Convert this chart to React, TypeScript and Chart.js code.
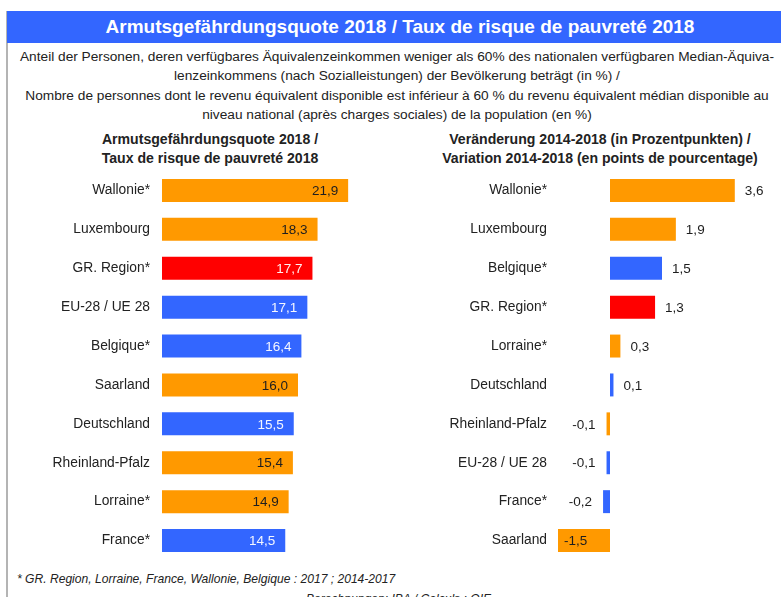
import React, { useEffect, useRef } from "react";
import { Chart, registerables } from "chart.js";

Chart.register(...registerables);

// ---------- data ----------
const levelCategories = [
  "Wallonie*",
  "Luxembourg",
  "GR. Region*",
  "EU-28 / UE 28",
  "Belgique*",
  "Saarland",
  "Deutschland",
  "Rheinland-Pfalz",
  "Lorraine*",
  "France*",
];
const levelValues = [21.9, 18.3, 17.7, 17.1, 16.4, 16.0, 15.5, 15.4, 14.9, 14.5];
const levelKinds = ["region", "region", "gr", "national", "national", "region", "national", "region", "region", "national"];

const changeCategories = [
  "Wallonie*",
  "Luxembourg",
  "Belgique*",
  "GR. Region*",
  "Lorraine*",
  "Deutschland",
  "Rheinland-Pfalz",
  "EU-28 / UE 28",
  "France*",
  "Saarland",
];
const changeValues = [3.6, 1.9, 1.5, 1.3, 0.3, 0.1, -0.1, -0.1, -0.2, -1.5];
const changeKinds = ["region", "region", "national", "gr", "region", "national", "region", "national", "national", "region"];

const COLORS: Record<string, string> = {
  region: "#FF9900",
  national: "#3366FF",
  gr: "#FF0000",
};
const TEXT_ON: Record<string, string> = {
  region: "#1e1e1e",
  national: "#f4f6ff",
  gr: "#fff2f2",
};

const FONT = '"Liberation Sans", Arial, Helvetica, sans-serif';

const fmt = (v: number) => v.toFixed(1).replace(".", ",");

const valueLabels = {
  id: "valueLabels",
  afterDatasetsDraw(chart: any, _args: any, opts: any) {
    const ctx = chart.ctx;
    const meta = chart.getDatasetMeta(0);
    const ds = chart.data.datasets[0];
    const area = chart.chartArea;
    ctx.save();
    ctx.font = `13.5px ${FONT}`;
    ctx.textBaseline = "middle";
    meta.data.forEach((bar: any, i: number) => {
      const v = ds.data[i] as number;
      const text = fmt(v);
      const { x, y, base } = bar.getProps(["x", "y", "base"], true);
      if (opts.mode === "inside") {
        ctx.textAlign = "right";
        ctx.fillStyle = TEXT_ON[opts.kinds[i]];
        ctx.fillText(text, x - 10, y + 1);
      } else {
        ctx.fillStyle = "#1e1e1e";
        if (v >= 0) {
          ctx.textAlign = "left";
          ctx.fillText(text, Math.max(x, base) + 10, y + 1);
        } else {
          const w = ctx.measureText(text).width;
          let right = Math.min(x, base) - 11;
          if (right - w < area.left + 6) right = area.left + 6 + w;
          ctx.textAlign = "right";
          ctx.fillText(text, right, y + 1);
        }
      }
    });
    ctx.restore();
  },
};

function makeChart(
  canvas: HTMLCanvasElement,
  labels: string[],
  values: number[],
  kinds: string[],
  min: number,
  max: number,
  axisWidth: number,
  tickPad: number,
  mode: string
) {
  return new Chart(canvas, {
    type: "bar",
    data: {
      labels,
      datasets: [
        {
          data: values,
          backgroundColor: kinds.map((k) => COLORS[k]),
          borderWidth: 0,
          barPercentage: 0.59,
          categoryPercentage: 1,
        },
      ],
    },
    options: {
      indexAxis: "y",
      animation: false,
      responsive: false,
      maintainAspectRatio: false,
      layout: { padding: 0 },
      plugins: {
        legend: { display: false },
        tooltip: { enabled: false },
        title: { display: false },
        valueLabels: { mode, kinds },
      } as any,
      scales: {
        x: { display: false, min, max },
        y: {
          grid: { display: false, drawTicks: false },
          border: { display: false },
          ticks: {
            color: "#222",
            font: { family: FONT, size: 13.8 },
            padding: tickPad,
          },
          afterFit: (s: any) => {
            s.width = axisWidth;
            s.paddingTop = 0;
            s.paddingBottom = 0;
          },
        },
      },
    },
    plugins: [valueLabels],
  });
}

function ChartCanvas(props: {
  left: number;
  top: number;
  width: number;
  height: number;
  build: (c: HTMLCanvasElement) => Chart;
}) {
  const ref = useRef<HTMLCanvasElement>(null);
  useEffect(() => {
    if (!ref.current) return;
    const chart = props.build(ref.current);
    return () => chart.destroy();
  }, []);
  return (
    <canvas
      ref={ref}
      width={props.width}
      height={props.height}
      style={{
        position: "absolute",
        left: props.left,
        top: props.top,
        width: props.width,
        height: props.height,
      }}
    />
  );
}

const centered = (cx: number, top: number, style: React.CSSProperties, text: string) => (
  <div
    style={{
      position: "absolute",
      left: cx - 450,
      width: 900,
      top,
      textAlign: "center",
      whiteSpace: "nowrap",
      fontFamily: FONT,
      ...style,
    }}
  >
    {text}
  </div>
);

export default function App() {
  return (
    <div
      style={{
        position: "absolute",
        left: 0,
        top: 0,
        width: 781,
        height: 597,
        overflow: "hidden",
        background: "#fff",
        fontFamily: FONT,
        color: "#222",
      }}
    >
      {/* frame line */}
      <div style={{ position: "absolute", left: 6, top: 11, width: 2, height: 600, background: "#b4b4b4" }} />
      {/* title bar */}
      <div style={{ position: "absolute", left: 7, top: 11, width: 790, height: 32, background: "#3366FF" }} />
      {centered(400, 16, { color: "#fff", fontWeight: "bold", fontSize: 19, lineHeight: "22px" }, "Armutsgefährdungsquote 2018 / Taux de risque de pauvreté 2018")}
      {centered(397, 49, { fontSize: 13.7, lineHeight: "16px" }, "Anteil der Personen, deren verfügbares Äquivalenzeinkommen weniger als 60% des nationalen verfügbaren Median-Äquiva-")}
      {centered(397, 68, { fontSize: 13.7, lineHeight: "16px" }, "lenzeinkommens (nach Sozialleistungen) der Bevölkerung beträgt (in %) /")}
      {centered(397, 88, { fontSize: 13.7, lineHeight: "16px" }, "Nombre de personnes dont le revenu équivalent disponible est inférieur à 60 % du revenu équivalent médian disponible au")}
      {centered(397, 107, { fontSize: 13.7, lineHeight: "16px" }, "niveau national (après charges sociales) de la population (en %)")}

      {centered(210, 131, { fontSize: 14.1, fontWeight: "bold", lineHeight: "17px" }, "Armutsgefährdungsquote 2018 /")}
      {centered(210, 150, { fontSize: 14.1, fontWeight: "bold", lineHeight: "17px" }, "Taux de risque de pauvreté 2018")}
      {centered(600, 131, { fontSize: 14.1, fontWeight: "bold", lineHeight: "17px" }, "Veränderung 2014-2018 (in Prozentpunkten) /")}
      {centered(600, 150, { fontSize: 14.1, fontWeight: "bold", lineHeight: "17px" }, "Variation 2014-2018 (en points de pourcentage)")}

      <ChartCanvas
        left={0}
        top={171}
        width={383}
        height={389}
        build={(c) => makeChart(c, levelCategories, levelValues, levelKinds, 0, 26, 162, 12, "inside")}
      />
      <ChartCanvas
        left={400}
        top={171}
        width={366}
        height={389}
        build={(c) => makeChart(c, changeCategories, changeValues, changeKinds, -1.5, 4.5, 158, 11, "outside")}
      />

      <div
        style={{
          position: "absolute",
          left: 17,
          top: 572,
          fontSize: 12.1,
          fontStyle: "italic",
          lineHeight: "14px",
          whiteSpace: "nowrap",
        }}
      >
        * GR. Region, Lorraine, France, Wallonie, Belgique : 2017 ; 2014-2017
      </div>
      <div
        style={{
          position: "absolute",
          left: 306,
          top: 592,
          fontSize: 12.1,
          fontStyle: "italic",
          lineHeight: "14px",
          whiteSpace: "nowrap",
        }}
      >
        Berechnungen: IBA / Calculs : OIE
      </div>
    </div>
  );
}
